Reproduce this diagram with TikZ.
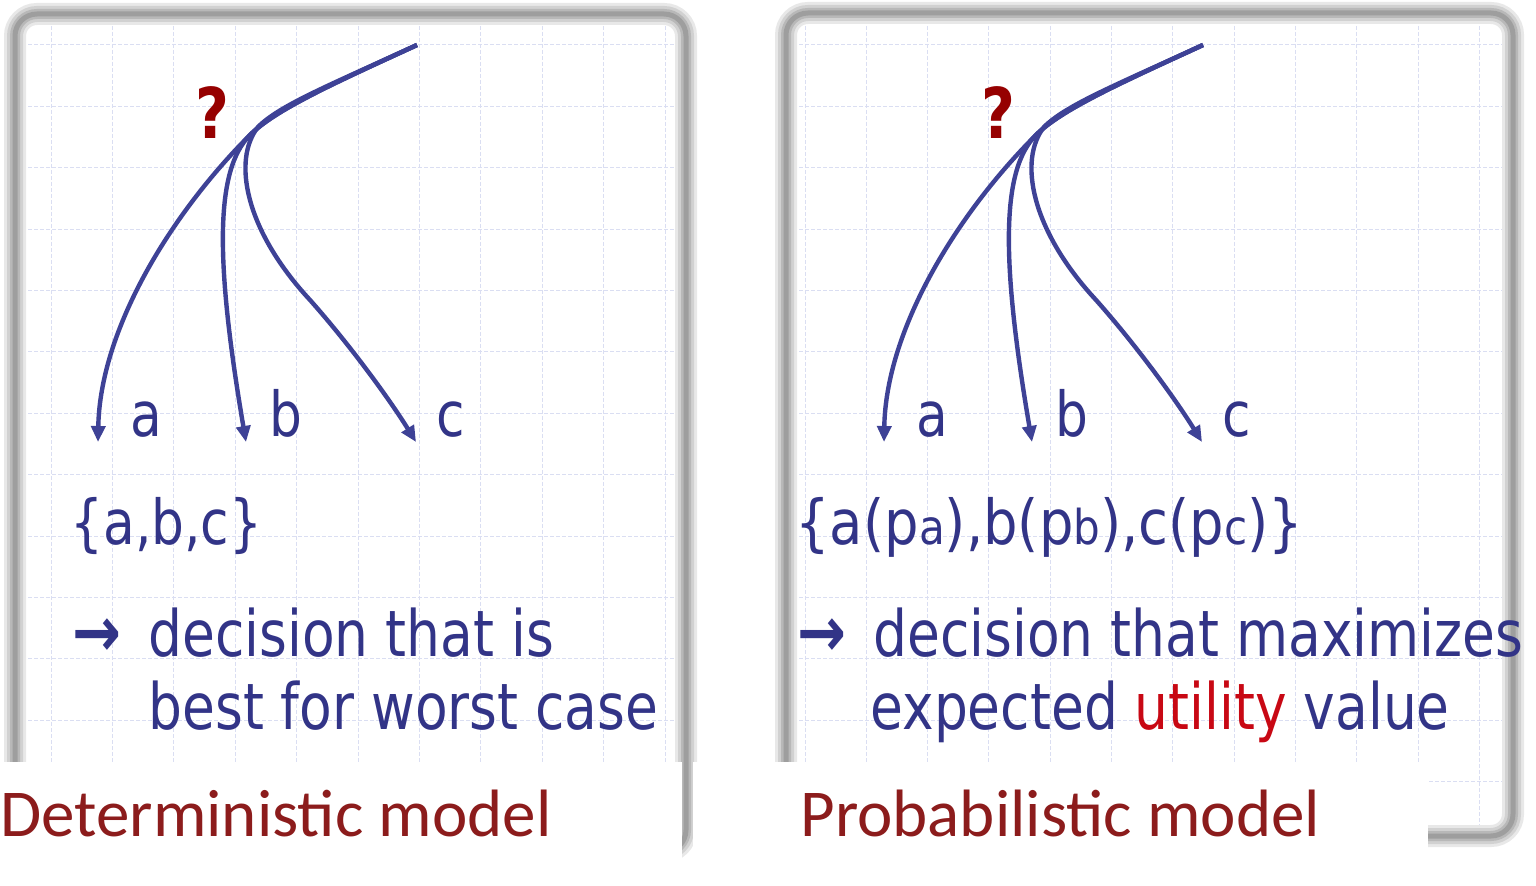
\documentclass[tikz,border=0pt]{standalone}
\usepackage{fontspec}
\usetikzlibrary{arrows.meta}
\newfontfamily\bodyfont[FakeStretch=0.835]{DejaVu Sans}
\newfontfamily\titlefont{Carlito}
\definecolor{txtblue}{RGB}{50,52,135}
\definecolor{arrblue}{RGB}{62,66,150}
\definecolor{titlered}{RGB}{140,28,28}
\definecolor{qred}{RGB}{150,0,0}
\definecolor{utilred}{RGB}{200,8,20}
\definecolor{gridc}{RGB}{218,222,242}
\newcommand\smalltxt[1]{{\fontsize{24}{28}\selectfont #1}}
\tikzset{
  gridline/.style={draw=gridc, line width=0.5pt, dash pattern=on 2pt off 1pt},
  frameA/.style={draw=black!9, line width=11pt, rounded corners=11pt},
  frameB/.style={draw=black!18, line width=8pt, rounded corners=11pt},
  frameC/.style={draw=black!28, line width=5pt, rounded corners=11pt},
  frameD/.style={draw=black!38, line width=2.5pt, rounded corners=11pt},
  arr/.style={draw=arrblue, line width=2.2pt, -{Triangle[length=8pt,width=7pt]}},
  body/.style={font=\bodyfont\fontsize{32}{38}\selectfont, text=txtblue, anchor=base west, inner sep=0pt},
  bodyarrow/.style={font=\bodyfont\bfseries\fontsize{35}{40}\selectfont, text=txtblue, anchor=base west, inner sep=0pt},
  lbl/.style={font=\bodyfont\fontsize{31}{36}\selectfont, text=txtblue, anchor=base west, inner sep=0pt},
  setfont/.style={font=\bodyfont\fontsize{31}{36}\selectfont},
  qmark/.style={font=\bodyfont\bfseries\fontsize{35}{40}\selectfont, text=qred, anchor=base, inner sep=0pt},
  title/.style={font=\titlefont\fontsize{33.5}{40}\selectfont, text=titlered, anchor=base west, inner sep=0pt},
  labelbox/.style={fill=white, draw=none}
}
\begin{document}
\begin{tikzpicture}[x=0.5pt,y=-0.5pt]
\useasboundingbox (0,0) rectangle (1536,886);
\fill[white] (0,0) rectangle (1536,886);
% grids
\begin{scope}
  \clip (22,20) rectangle (679,762);
  \foreach \i in {0,...,10} \draw[gridline] ({51+61.4*\i},20) -- ({51+61.4*\i},762);
  \foreach \j in {0,...,11} \draw[gridline] (22,{45+61.4*\j}) -- (679,{45+61.4*\j});
\end{scope}
\begin{scope}
  \clip (793,20) rectangle (1507,830);
  \foreach \i in {0,...,11} \draw[gridline] ({805+61.3*\i},20) -- ({805+61.3*\i},830);
  \foreach \j in {0,...,12} \draw[gridline] (793,{45+61.4*\j}) -- (1507,{45+61.4*\j});
\end{scope}
% frames
\foreach \s in {frameA,frameB,frameC,frameD}{
  \draw[\s] (15,14) rectangle (686,852);
  \draw[\s] (786,13) rectangle (1513,836);
}
% label boxes
\fill[labelbox] (0,762) rectangle (682,886);
\fill[labelbox] (693,762) rectangle (1428,886);
% trees
\foreach \p/\dx in {L/0,R/786}{
  \begin{scope}[shift={(\dx,0)}]
    \coordinate (\p s) at (417,45);
    \coordinate (\p ta) at (98,442);
    \coordinate (\p tb) at (246,442);
    \coordinate (\p tc) at (416,442);
    \draw[arr] (\p s) .. controls (330,85) and (275,110) .. (250,135)
      .. controls (170,215) and (100,330) .. (\p ta);
    \draw[arr] (\p s) .. controls (330,85) and (275,110) .. (250,135)
      .. controls (215,170) and (215,260) .. (\p tb);
    \draw[arr] (\p s) .. controls (330,85) and (280,105) .. (258,127)
      .. controls (232,160) and (245,230) .. (310,300)
      .. controls (350,345) and (390,400) .. (\p tc);
    \node[qmark] (\p q) at (212,139) {?};
    \node[lbl] (\p a) at (130,437) {a};
    \node[lbl] (\p b) at (269,437) {b};
    \node[lbl] (\p c) at (436,437) {c};
  \end{scope}
}
% texts left
\node[body, setfont] (Lset) at (70,545) {\{a,b,c\}};
\node[bodyarrow] (Larr) at (72,657) {→};
\node[body] (L1) at (148,657) {decision that is};
\node[body] (L2) at (148,730) {best for worst case};
% texts right
\node[body, setfont] (Rset) at (795,545) {\scalebox{1.05}[1]{\{a(p\smalltxt{a}),b(p\smalltxt{b}),c(p\smalltxt{c})\}}};
\node[bodyarrow] (Rarr) at (797,657) {→};
\node[body] (R1) at (873,657) {decision that maximizes};
\node[body] (R2) at (870,730) {expected \textcolor{utilred}{utility} value};
% titles
\node[title] (T1) at (0,836) {Deterministic model};
\node[title] (T2) at (800,836) {Probabilistic model};
\end{tikzpicture}
\end{document}
